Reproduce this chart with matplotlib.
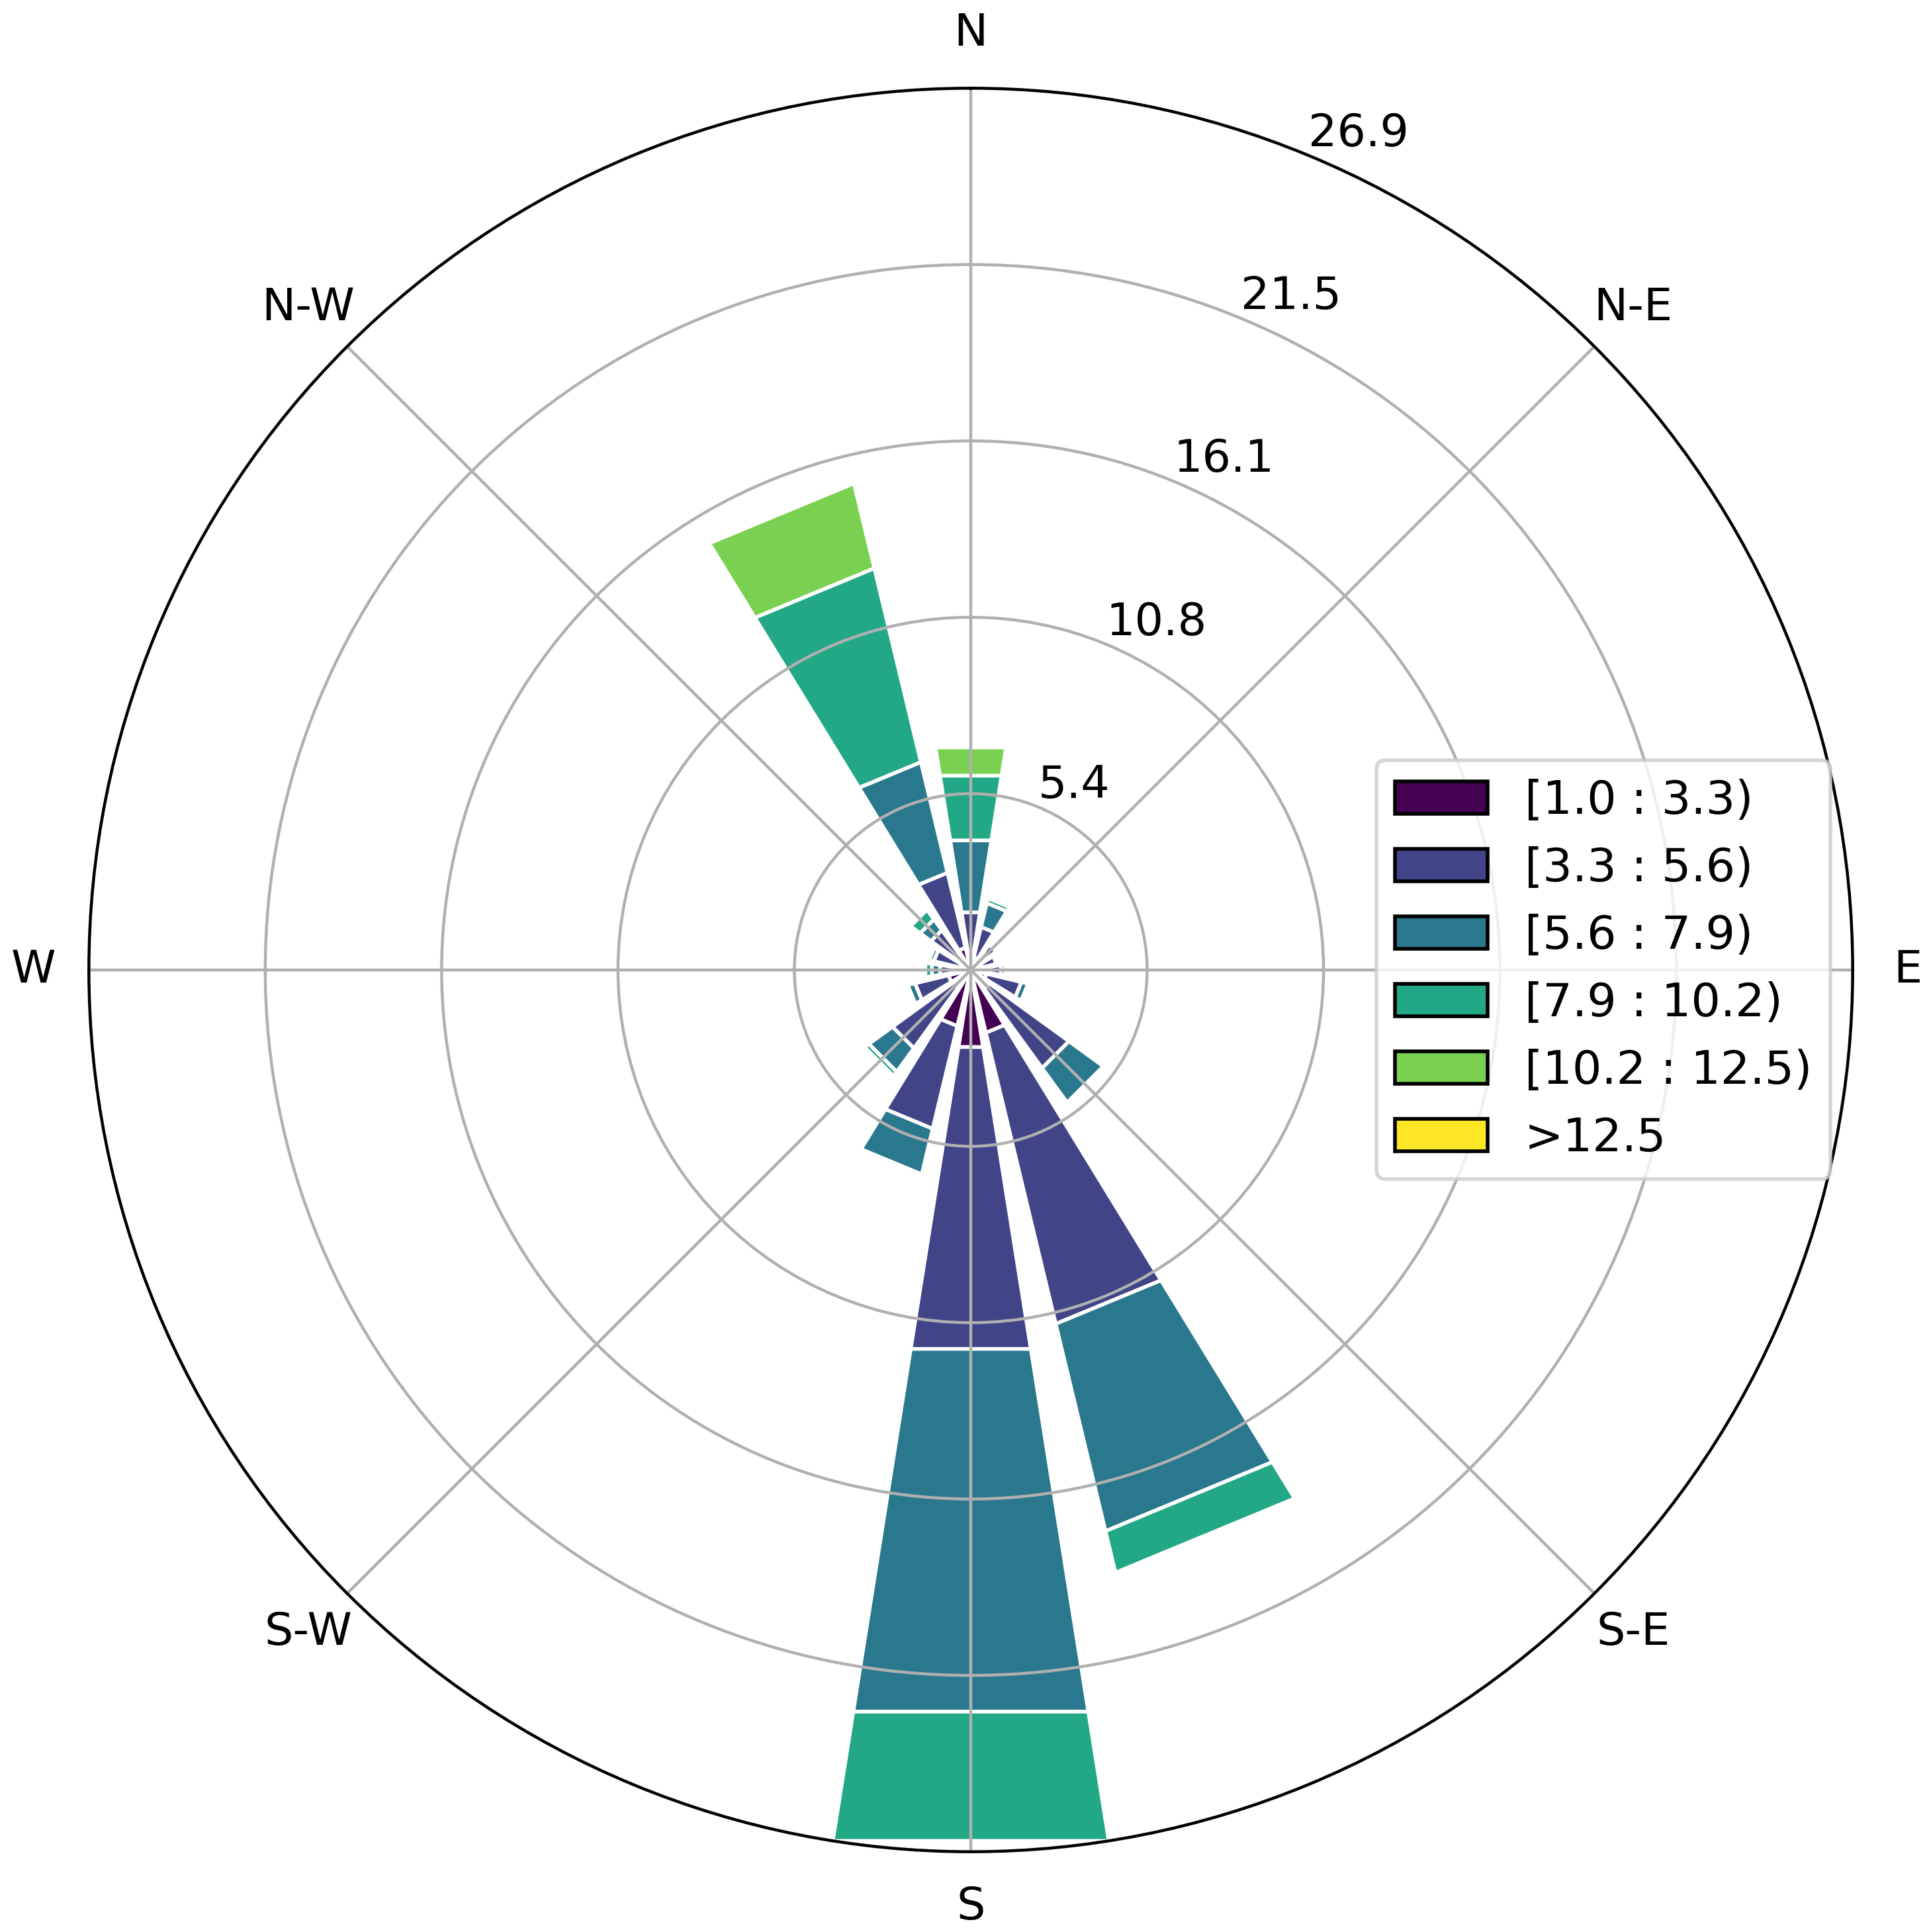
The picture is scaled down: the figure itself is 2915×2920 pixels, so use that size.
import numpy as np
import matplotlib.pyplot as plt
from matplotlib.patches import Rectangle, Patch

# 16 sectors, bearings in degrees (clockwise from north)
directions = ['N', 'NNE', 'NE', 'ENE', 'E', 'ESE', 'SE', 'SSE',
              'S', 'SSW', 'SW', 'WSW', 'W', 'WNW', 'NW', 'NNW']
bearings = np.arange(0, 360, 22.5)

speed_labels = ['[1.0 : 3.3)', '[3.3 : 5.6)', '[5.6 : 7.9)',
                '[7.9 : 10.2)', '[10.2 : 12.5)', '>12.5']

# frequency (%) of each speed bin, one value per direction (N ... NNW)
freq_1_3 = [0.40, 0.40, 0.40, 0.35, 0.40, 0.50, 0.70, 1.97,
            2.38, 1.76, 0.60, 0.70, 0.35, 0.30, 0.40, 0.70]
freq_3_5 = [1.38, 0.95, 0.55, 0.45, 0.53, 1.09, 3.00, 9.13,
            9.32, 3.22, 2.35, 1.05, 0.60, 0.86, 1.10, 2.35]
freq_5_7 = [2.22, 0.75, 0.00, 0.00, 0.13, 0.21, 1.30, 6.50,
            11.20, 1.43, 0.89, 0.23, 0.25, 0.14, 0.41, 3.47]
freq_7_10 = [2.00, 0.15, 0.00, 0.00, 0.00, 0.05, 0.05, 1.30,
             3.99, 0.09, 0.16, 0.02, 0.20, 0.00, 0.36, 6.08]
freq_10_12 = [0.87, 0.00, 0.00, 0.00, 0.00, 0.00, 0.00, 0.00,
              0.00, 0.00, 0.00, 0.00, 0.00, 0.00, 0.00, 2.66]
freq_12_up = [0.0] * 16

table = np.array([freq_1_3, freq_3_5, freq_5_7, freq_7_10, freq_10_12, freq_12_up])
colours = plt.cm.viridis(np.linspace(0, 1, len(speed_labels)))

plt.rcParams.update({'font.size': 12.3})
fig = plt.figure(figsize=(2915 / 400, 2920 / 400), dpi=400)
ax = fig.add_axes([0.04607, 0.04154, 0.91437, 0.91281], projection='polar')
ax.set_theta_zero_location('N')
ax.set_theta_direction(-1)

opening = np.radians(22.5) * 0.8
for j, b in enumerate(bearings):
    theta = np.radians(b) - opening / 2
    offset = 0.0
    for i in range(len(speed_labels)):
        val = table[i, j]
        if val > 0:
            ax.add_patch(Rectangle((theta, offset), opening, val,
                                   facecolor=colours[i], edgecolor='white', lw=1.0))
        offset += val

rmax = table.sum(axis=0).max()
ax.set_ylim(0, rmax)
radii = np.linspace(0, rmax, 6)[1:]
ax.set_rgrids(radii, labels=['%.1f' % r for r in radii], angle=22.5)
ax.set_thetagrids(np.arange(0, 360, 45),
                  labels=['N', 'N-E', 'E', 'S-E', 'S', 'S-W', 'W', 'N-W'])
ax.tick_params(axis='x', pad=4.5)
ax.grid(True)

handles = [Patch(facecolor=c, edgecolor='black', lw=1.0) for c in colours]
fig.legend(handles, speed_labels, loc='upper left', fontsize=12.6,
           bbox_to_anchor=(2080 / 2915, 1 - 1149 / 2920),
           bbox_transform=fig.transFigure, borderaxespad=0)

plt.savefig('out.png', dpi=400)
